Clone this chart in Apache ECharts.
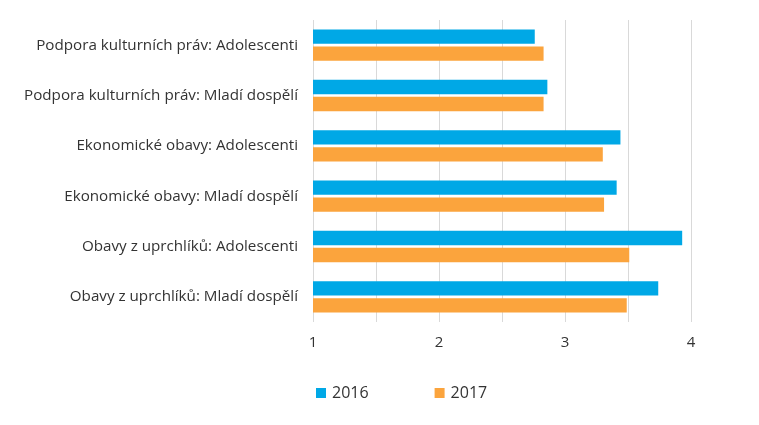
<!DOCTYPE html>
<html>
<head>
<meta charset="utf-8">
<script src="https://cdn.jsdelivr.net/npm/echarts@6/dist/echarts.min.js"></script>
<style>
html,body{margin:0;padding:0;background:#fff;}
#chart{width:759px;height:425px;}
</style>
</head>
<body>
<div id="chart"></div>
<script>
const categories = [
  "Podpora kulturních práv: Adolescenti",
  "Podpora kulturních práv: Mladí dospělí",
  "Ekonomické obavy: Adolescenti",
  "Ekonomické obavy: Mladí dospělí",
  "Obavy z uprchlíků: Adolescenti",
  "Obavy z uprchlíků: Mladí dospělí"
];
const seriesNames = ["2016", "2017"];
const values2016 = [2.76, 2.86, 3.44, 3.41, 3.93, 3.74];
const values2017 = [2.83, 2.83, 3.30, 3.31, 3.51, 3.49];
const xMin = 1, xMax = 4, xStep = 0.5;

const FONT = "'Open Sans', sans-serif";
const chart = echarts.init(document.getElementById('chart'), null, {renderer: 'canvas'});
chart.setOption({
  animation: false,
  backgroundColor: '#ffffff',
  textStyle: {fontFamily: FONT},
  grid: {left: 313, right: 68, top: 20, height: 302, containLabel: false},
  legend: {
    left: 311, top: 380,
    itemWidth: 10, itemHeight: 10, itemGap: 66,
    icon: 'rect',
    textStyle: {fontSize: 16, color: '#333', fontFamily: FONT, padding: [0, 0, 0, 1]},
    data: seriesNames
  },
  xAxis: {
    type: 'value', min: xMin, max: xMax, interval: xStep,
    axisLine: {show: false}, axisTick: {show: false},
    splitLine: {show: true, lineStyle: {color: '#d9d9d9', width: 1}},
    axisLabel: {
      color: '#333', fontSize: 15, margin: 13, fontFamily: FONT,
      formatter: v => (Math.abs(v - Math.round(v)) < 1e-9 ? String(Math.round(v)) : '')
    }
  },
  yAxis: {
    type: 'category', data: categories, inverse: true,
    axisLine: {show: false}, axisTick: {show: false},
    splitLine: {show: false},
    axisLabel: {color: '#333', fontSize: 15.2, margin: 15, fontFamily: FONT}
  },
  series: [
    {name: seriesNames[0], type: 'bar', data: values2016, barWidth: 14.4, barGap: '18%',
     itemStyle: {color: '#00A8E6'}},
    {name: seriesNames[1], type: 'bar', data: values2017, barWidth: 14.4, barGap: '18%',
     itemStyle: {color: '#FBA43D'}}
  ]
});
</script>
</body>
</html>
